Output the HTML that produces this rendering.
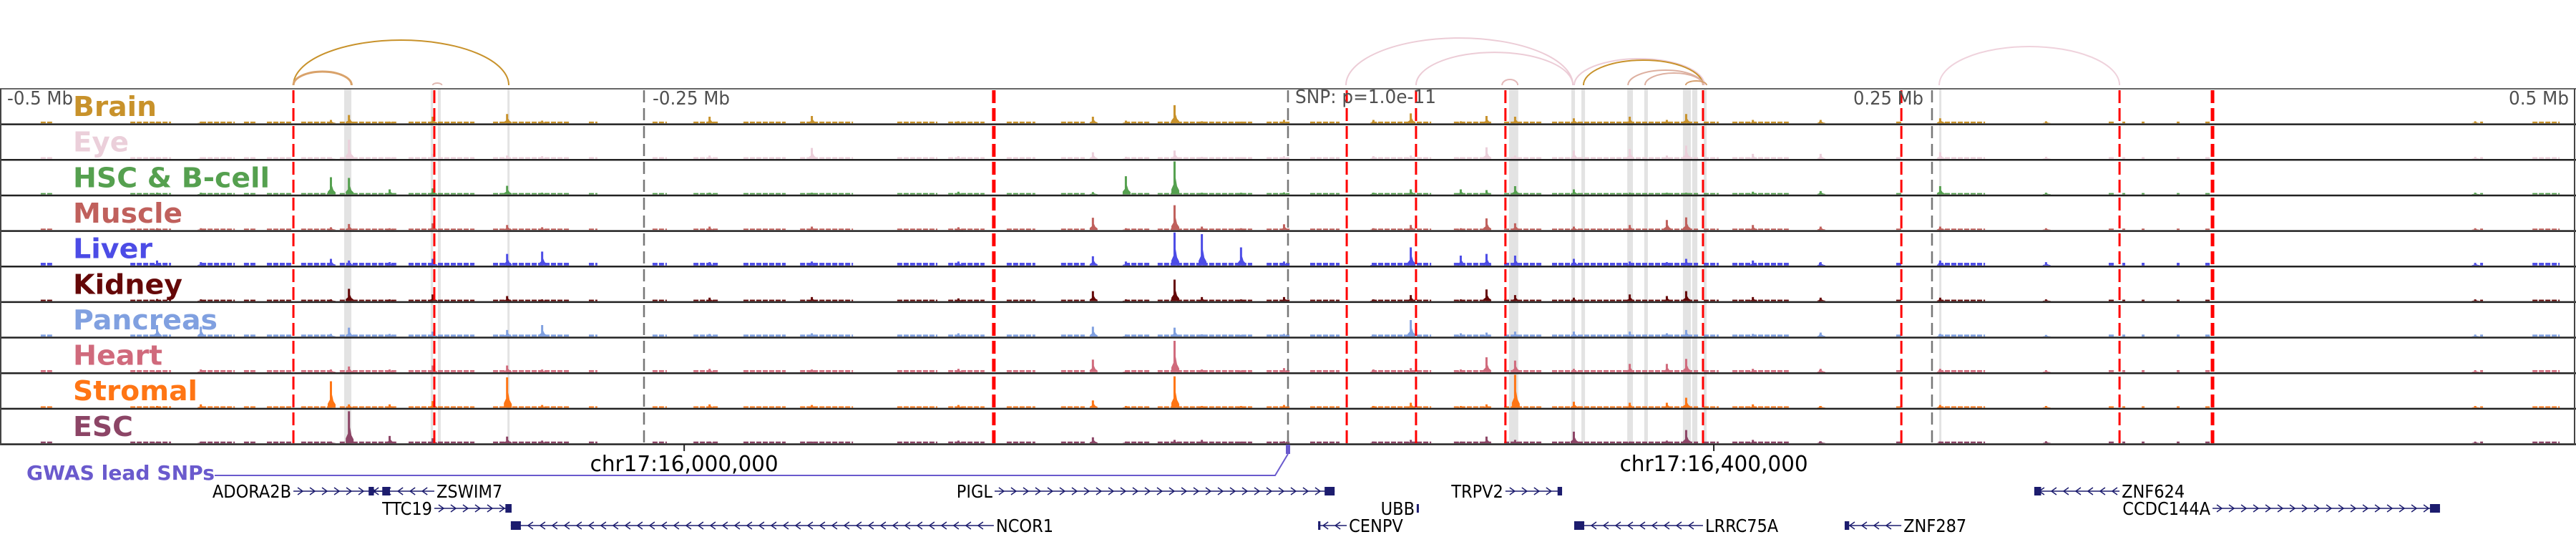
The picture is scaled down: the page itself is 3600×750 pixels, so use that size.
<!DOCTYPE html>
<html><head><meta charset="utf-8"><title>Genome browser tracks</title>
<style>
html,body{margin:0;padding:0;background:#fff;width:3600px;height:750px;overflow:hidden}
svg{display:block}
</style></head>
<body>
<svg id="chart" xmlns="http://www.w3.org/2000/svg" width="3600" height="750" viewBox="0 0 3600 750"></svg>
<script>
// ---------- data ----------
const trackNames = ["Brain","Eye","HSC & B-cell","Muscle","Liver","Kidney","Pancreas","Heart","Stromal","ESC"];
const trackColors = ["#c8922b","#ebcfda","#55a04f","#c0605c","#4c4ce6","#650808","#80a0e0","#d06a7c","#ff7514","#8c4566"];
const labelWidths = [117,78,275,153,111,153,202,125,174,84];
const peakKb = [-438.9,-421.9,-371.4,-364.4,-348.6,-331.9,-303,-289.4,-224.4,-184.7,-127.8,-75.6,-62.8,-43.9,-33.3,-18.1,-1.4,33.3,47.8,67.2,77.2,88.3,111.1,132.8,147.2,154.7,180.6,206.9,253.3,294.4,461];
const brainVals   = [.05,.05,.1,.25,.05,.2,.28,.08,.2,.22,.06,.2,.08,.55,.06,.05,.1,.1,.3,.06,.22,.2,.15,.2,.1,.28,.1,.1,.15,.06,.06];
const eyeVals     = [.05,.05,.05,.58,.05,.15,.1,.08,.1,.33,.08,.2,.06,.25,.06,.05,.08,.08,.1,.05,.35,.1,.25,.3,.1,.4,.15,.15,.2,.06,.06];
const hscVals     = [.05,.05,.52,.5,.15,.18,.26,.05,.05,.05,.08,.07,.55,1.0,.05,.05,.06,.05,.15,.15,.13,.25,.15,.05,.05,.05,.08,.1,.25,.05,.05];
const muscleVals  = [.05,.05,.08,.18,.05,.2,.15,.08,.1,.1,.08,.37,.05,.75,.1,.05,.17,.05,.15,.05,.35,.2,.1,.15,.3,.38,.15,.1,.1,.05,.05];
const liverVals   = [.15,.1,.2,.15,.1,.2,.35,.42,.1,.12,.12,.28,.12,1.0,.95,.55,.12,.08,.55,.3,.35,.3,.2,.12,.1,.2,.15,.1,.15,.1,.08];
const kidneyVals  = [.06,.05,.05,.37,.05,.2,.15,.05,.1,.12,.08,.3,.05,.65,.12,.05,.12,.05,.18,.05,.35,.18,.1,.2,.15,.3,.12,.1,.1,.05,.05];
const pancreasVals= [.35,.3,.08,.27,.08,.15,.2,.35,.08,.1,.1,.3,.06,.27,.07,.05,.08,.06,.5,.1,.12,.15,.15,.15,.1,.2,.08,.12,.08,.05,.06];
const heartVals   = [.05,.08,.08,.17,.08,.2,.2,.08,.1,.08,.1,.38,.05,.95,.08,.05,.12,.08,.12,.08,.45,.35,.1,.25,.25,.4,.1,.1,.1,.06,.06];
const stromalVals = [.05,.1,.8,.1,.1,.2,.92,.08,.1,.08,.08,.22,.05,.95,.05,.05,.08,.05,.15,.05,.1,1.0,.18,.15,.15,.3,.1,.05,.08,.05,.05];
const escVals     = [.05,.05,.05,.97,.22,.15,.2,.08,.05,.05,.08,.18,.05,.1,.1,.05,.06,.05,.1,.05,.2,.1,.35,.05,.08,.4,.1,.06,.05,.06,.05];
const bgLevels = [.05,.05,.04,.04,.08,.04,.06,.06,.04,.05];
const bgStart = [-484.2,-449.4,-421.9,-405.3,-396.4,-383.1,-368.1,-341.4,-330,-308.6,-271.4,-246.7,-230.8,-211.4,-189.4,-151.7,-131.9,-109.2,-88.1,-63.3,-50.6,-8.3,8.6,32.5,64.4,83.9,102.5,161.4,172.5,206.1,236.1,252.5,318.6,323.9,331.4,345,356.1,462.8,483.1];
const bgEnd   = [-479.7,-433.6,-408.9,-400.8,-386.7,-370.6,-345.8,-331.7,-315.8,-278.6,-268.1,-241.4,-221.1,-195,-168.9,-136.1,-117.8,-98.1,-78.9,-53.3,-13.9,0.6,20,55.6,79.4,98.9,159.2,167.2,194.4,206.9,238.1,270.6,321.1,325,332.5,346.1,357.8,463.9,493.6];
const bandStart = [-366.4,-332.8,-330,-303,85.8,110,113.9,131.7,138.3,153.3,156.9,161.4,252.8];
const bandEnd   = [-363.6,-331.9,-328.9,-302.2,89.4,111.4,115.3,133.9,139.7,156.4,158.9,162.5,253.6];
const redLinesKb = [-386.1,-331.4,-114.2,22.8,49.7,84.4,161.1,238.1,322.8,358.9];
const axisTicksKb = [-250,0,250];
const arcStart = [-386.1,-386.1,-332,22.5,49.7,83.1,111.1,114.7,132,138.6,154.4,252.8];
const arcEnd   = [-302.5,-363.5,-328.5,110.6,110.6,89.2,161.7,161.1,161.1,161.1,162.5,322.8];
const arcHeight= [63,19,3,66,46,8,37,35,21,17,6,54];
const arcColors= ["#c8922b","#d9a26a","#e0b8b0","#ecccd6","#ecccd6","#e3b8b8","#ecccd6","#c8922b","#ddb0a0","#ddb0a0","#d6a070","#efd2dc"];
const geneNames  = ["ADORA2B","ZSWIM7","TTC19","NCOR1","PIGL","UBB","CENPV","TRPV2","LRRC75A","ZNF287","ZNF624","CCDC144A"];
const geneStart  = [-386.1,-356.9,-331.4,-301.7,-113.9,50,11.7,84.4,111.1,216.1,289.7,358.9];
const geneEnd    = [-348.6,-331.4,-301.4,-114.2,18.1,50.8,22.8,106.4,161.1,238.1,322.8,447.2];
const geneStrand = [1,-1,1,-1,1,1,-1,1,-1,-1,-1,1];
const geneRow    = [0,0,1,2,0,1,2,0,2,2,0,1];
const geneLabelLeft = [1,0,1,0,1,1,0,1,0,0,0,1];
const chrTickKb = [-234.4,165.3];
const chrTickLabels = ["chr17:16,000,000","chr17:16,400,000"];
const snpKb = 0;

// ---------- helpers ----------
const NS="http://www.w3.org/2000/svg";
const svg=document.getElementById('chart');
function x(kb){return 1800+kb*3.6;}
const TOP=124, TH=49.65, NT=10, HMAX=46;
function mk(tag,attrs,parent){const e=document.createElementNS(NS,tag);for(const k in attrs)e.setAttribute(k,attrs[k]);(parent||svg).appendChild(e);return e;}
const trackVals=[brainVals,eyeVals,hscVals,muscleVals,liverVals,kidneyVals,pancreasVals,heartVals,stromalVals,escVals];

// arcs
const gArcs=mk('g',{});


for(let i=0;i<arcStart.length;i++){
  const x1=x(arcStart[i]),x2=x(arcEnd[i]),rx=(x2-x1)/2;
  const p=mk('path',{d:`M${x1} 119 A${rx} ${arcHeight[i]} 0 0 1 ${x2} 119`,fill:'none',stroke:arcColors[i],'stroke-width':i===1?3:2},gArcs);
  
  
}

// highlight bands
for(let i=0;i<bandStart.length;i++){
  const r=mk('rect',{x:x(bandStart[i]),y:TOP,width:Math.max(3,x(bandEnd[i])-x(bandStart[i])),height:TH*NT,fill:'#e3e3e3'});
  
  
}

// tracks
for(let t=0;t<NT;t++){
  const top=TOP+t*TH, base=top+TH-1.5;
  const g=mk('g',{});
  
  
  const col=trackColors[t];
  for(let i=0;i<bgStart.length;i++){
    const x1=x(bgStart[i]),x2=x(bgEnd[i]);
    for(let xx=x1;xx<x2;xx+=9){
      const w=Math.min(7,x2-xx);
      const r=mk('rect',{x:xx,y:base-bgLevels[t]*HMAX,width:Math.max(w,2),height:bgLevels[t]*HMAX,fill:col},g);
      
      
    }
  }
  const vals=trackVals[t];
  for(let i=0;i<peakKb.length;i++){
    const cx=x(peakKb[i]), h=vals[i]*HMAX;
    const d=`M${cx-5} ${base} L${cx-5} ${base-h*0.15} L${cx-2} ${base-h*0.3} L${cx-2} ${base-h} L${cx+1} ${base-h} L${cx+1} ${base-h*0.5} L${cx+3} ${base-h*0.25} L${cx+6} ${base-h*0.12} L${cx+6} ${base} Z`;
    const p=mk('path',{d,fill:col},g);
    
    
  }
  const tl=mk('text',{x:102,y:top+38,'font-family':'"DejaVu Sans","Liberation Sans",sans-serif','font-weight':'bold','font-size':38,fill:col,textLength:labelWidths[t],lengthAdjust:'spacingAndGlyphs'},g);
  tl.textContent=trackNames[t];
  
  
}

// track borders
for(let t=0;t<=NT;t++){
  const l=mk('line',{x1:0,x2:3600,y1:TOP+t*TH,y2:TOP+t*TH,stroke:t===0?'#666':'#222','stroke-width':t===0?2:2.5});
  
  
}
const lb=mk('line',{x1:1,x2:1,y1:TOP,y2:TOP+TH*NT,stroke:'#444','stroke-width':2});


const rb=mk('line',{x1:3598,x2:3598,y1:TOP,y2:TOP+TH*NT,stroke:'#444','stroke-width':2});



for(let i=0;i<axisTicksKb.length;i++){
  const l=mk('line',{x1:x(axisTicksKb[i]),x2:x(axisTicksKb[i]),y1:TOP+2,y2:TOP+TH*NT,stroke:'#777','stroke-width':2.5,'stroke-dasharray':'17,8'});
  
  
}
for(let i=0;i<redLinesKb.length;i++){
  const w=(i===2||i===9)?5:3;
  const l=mk('line',{x1:x(redLinesKb[i]),x2:x(redLinesKb[i]),y1:TOP+2,y2:TOP+TH*NT,stroke:'#ff0000','stroke-width':w,'stroke-dasharray':'18,7'});
  
  
}

const axisFont='"DejaVu Sans Condensed","DejaVu Sans","Liberation Sans",sans-serif';
function atext(str,xx,yy,anchor,len,name){
  const t=mk('text',{x:xx,y:yy,'font-family':axisFont,'font-size':26,fill:'#505050','text-anchor':anchor,textLength:len,lengthAdjust:'spacingAndGlyphs'});
  t.textContent=str;
  
  
}
atext('-0.5 Mb',10,146,'start',92,'axis-label-minus-0.5');
atext('-0.25 Mb',912,146,'start',108,'axis-label-minus-0.25');
atext('SNP: p=1.0e-11',1810,144,'start',197,'snp-pvalue-label');
atext('0.25 Mb',2688,146,'end',98,'axis-label-0.25');
atext('0.5 Mb',3590,146,'end',84,'axis-label-0.5');

for(let i=0;i<chrTickKb.length;i++){
  const cx=x(chrTickKb[i]);
  const l=mk('line',{x1:cx,x2:cx,y1:620,y2:630,stroke:'#222','stroke-width':2});
  
  
  const t=mk('text',{x:cx,y:658,'font-family':axisFont,'font-size':30,fill:'#000','text-anchor':'middle',textLength:263,lengthAdjust:'spacingAndGlyphs'});
  t.textContent=chrTickLabels[i];
  
  
}

const gw=mk('text',{x:37,y:670,'font-family':'"DejaVu Sans","Liberation Sans",sans-serif','font-weight':'bold','font-size':28,fill:'#6a5acd',textLength:263,lengthAdjust:'spacingAndGlyphs'});
gw.textContent='GWAS lead SNPs';


const sx=x(snpKb);
const gp=mk('path',{d:`M300 664 L${sx-18} 664 L${sx} 634`,fill:'none',stroke:'#6a5acd','stroke-width':2});


const gr=mk('rect',{x:sx-3,y:621,width:6,height:13,fill:'#6a5acd'});



const rowY=[686,710,734];
const navy='#1c1c6e';
for(let i=0;i<geneNames.length;i++){
  const x1=x(geneStart[i]),x2=x(geneEnd[i]),y=rowY[geneRow[i]];
  const g=mk('g',{});
  
  
  mk('line',{x1,x2,y1:y,y2:y,stroke:navy,'stroke-width':1.5},g);
  for(let xx=x1+10;xx<x2-6;xx+=17){
    const d=geneStrand[i]>0?`M${xx-4} ${y-5} L${xx+3} ${y} L${xx-4} ${y+5}`:`M${xx+4} ${y-5} L${xx-3} ${y} L${xx+4} ${y+5}`;
    mk('path',{d,fill:'none',stroke:navy,'stroke-width':1.5},g);
  }
  const bw=Math.min(14,Math.max(3,(x2-x1)*0.08));
  const bx=geneStrand[i]>0?x2-bw:x1;
  mk('rect',{x:bx,y:y-6,width:bw,height:12,fill:navy},g);
  const lt=mk('text',{x:geneLabelLeft[i]?x1-3:x2+3,y:y+9,'font-family':axisFont,'font-size':25,fill:'#000','text-anchor':geneLabelLeft[i]?'end':'start'},g);
  lt.textContent=geneNames[i];
  
  
}
</script>
</body></html>
